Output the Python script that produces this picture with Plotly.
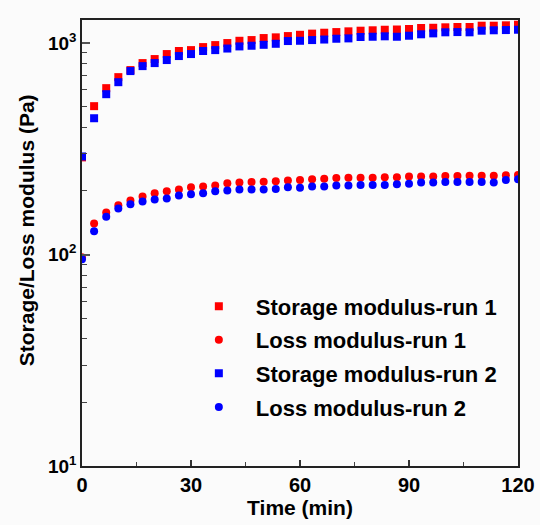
import plotly.graph_objects as go

time_min = [0, 3.33, 6.67, 10, 13.33, 16.67, 20, 23.33, 26.67, 30, 33.33, 36.67, 40,
            43.33, 46.67, 50, 53.33, 56.67, 60, 63.33, 66.67, 70, 73.33, 76.67, 80,
            83.33, 86.67, 90, 93.33, 96.67, 100, 103.33, 106.67, 110, 113.33, 116.67, 120]

storage_run1 = [288, 503, 612, 690, 745, 804, 840, 887, 917, 926, 957, 978, 1000, 1025, 1033,
                1056, 1064, 1079, 1094, 1108, 1119, 1127, 1136, 1144, 1149, 1156, 1159, 1165,
                1178, 1181, 1187, 1191, 1191, 1208, 1208, 1213, 1221]
loss_run1 = [97, 140, 158, 171, 180, 188, 195, 199, 203, 208, 210, 212, 217, 219, 220, 221, 222,
             224, 225, 227, 228, 230, 231, 231, 231, 232, 232, 234, 234, 234, 235, 235, 236, 236,
             236, 237, 238]
storage_run2 = [291, 441, 573, 653, 737, 778, 804, 831, 868, 887, 917, 926, 942, 964, 971, 981,
                992, 1022, 1025, 1033, 1039, 1048, 1052, 1068, 1071, 1076, 1071, 1083, 1100, 1111,
                1124, 1127, 1124, 1144, 1149, 1152, 1156]
loss_run2 = [95, 129, 151, 165, 173, 178, 182, 184, 190, 193, 195, 199, 201, 203, 203, 203, 204,
             208, 207, 210, 210, 212, 212, 213, 213, 213, 215, 216, 219, 219, 220, 220, 220, 220,
             219, 225, 227]

series_names = ["Storage modulus-run 1", "Loss modulus-run 1",
                "Storage modulus-run 2", "Loss modulus-run 2"]
x_ticks = [0, 30, 60, 90, 120]
y_ticks = [10, 100, 1000]
y_tick_labels = ["10<sup>1</sup>", "10<sup>2</sup>", "10<sup>3</sup>"]

RED = "#ff0000"
BLUE = "#0000ff"
FONT = "Liberation Sans, Arial, sans-serif"

fig = go.Figure()
specs = [
    (storage_run1, RED, "square"),
    (loss_run1, RED, "circle"),
    (storage_run2, BLUE, "square"),
    (loss_run2, BLUE, "circle"),
]
for i, (vals, col, sym) in enumerate(specs):
    fig.add_trace(go.Scatter(
        x=time_min, y=vals, mode="markers", name=series_names[i],
        legendgroup=f"g{i}",
        marker=dict(symbol=sym, color=col, size=8, line=dict(width=0)),
    ))

fig.update_layout(
    width=540, height=525,
    margin=dict(l=82, r=22, t=20, b=59),
    paper_bgcolor="#fbfbfb", plot_bgcolor="#fbfbfb",
    font=dict(family=FONT, size=21, color="black", weight="bold"),
    showlegend=True,
    legend=dict(
        x=0.229, y=0.405, xanchor="left", yanchor="top",
        bgcolor="rgba(0,0,0,0)", borderwidth=0,
        font=dict(family=FONT, size=22, color="black", weight="bold"),
        tracegroupgap=2, itemwidth=64,
    ),
    annotations=[dict(
        text="Storage/Loss modulus (Pa)", xref="paper", yref="paper",
        x=-0.128, y=0.529, xanchor="center", yanchor="middle", textangle=-90,
        showarrow=False, font=dict(family=FONT, size=21, color="black", weight="bold"),
    )],
)

fig.update_xaxes(
    range=[0, 120], tickvals=x_ticks, ticktext=[str(v) for v in x_ticks],
    ticks="inside", ticklen=6, tickwidth=1.5, tickcolor="#333",
    minor=dict(ticks="inside", ticklen=4, tickwidth=1.2, tickcolor="#444", dtick=15, showgrid=False),
    showline=True, linecolor="#222", linewidth=1.5, mirror=True,
    showgrid=False, zeroline=False, automargin=False,
    tickfont=dict(family=FONT, size=20, weight="bold"),
    title=dict(text="Time (min)", font=dict(family=FONT, size=21, weight="bold"), standoff=2),
)
fig.update_yaxes(
    type="log", range=[1, 3.109], tickvals=y_ticks, ticktext=y_tick_labels,
    ticks="inside", ticklen=8, tickwidth=1.5, tickcolor="#555",
    minor=dict(ticks="inside", ticklen=5, tickwidth=1.2, tickcolor="#444", dtick="D1", showgrid=False),
    showline=True, linecolor="#222", linewidth=1.5, mirror=True,
    showgrid=False, zeroline=False, automargin=False,
    tickfont=dict(family=FONT, size=19, weight="bold"),
)

fig.write_html("out.html")
